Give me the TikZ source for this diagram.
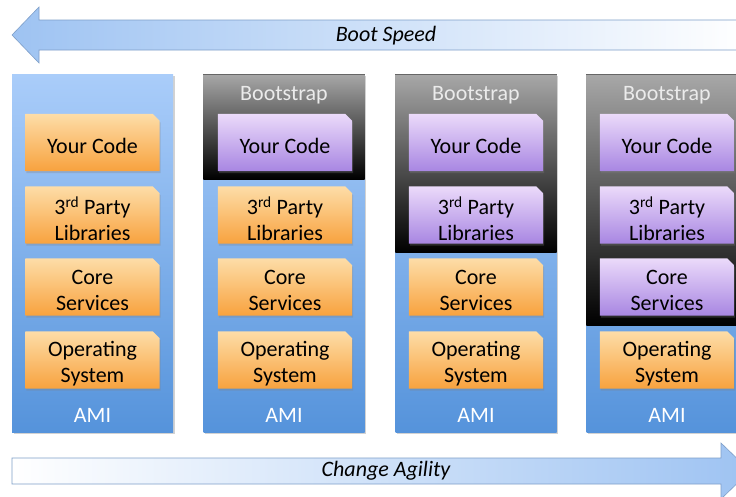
\documentclass[tikz,border=0pt]{standalone}
\usepackage{fontspec}
\setmainfont{Carlito}
\usetikzlibrary{shadows}
\definecolor{colTop}{HTML}{AACDFA}
\definecolor{colBot}{HTML}{5593DB}
\definecolor{orTop}{HTML}{FDDDA8}
\definecolor{orBot}{HTML}{F8A23E}
\definecolor{puTop}{HTML}{EBDAFA}
\definecolor{puBot}{HTML}{A886E2}
\definecolor{bsTop}{HTML}{A8A8A8}
\definecolor{arrBlue}{HTML}{9EC3F2}
\definecolor{arrEdge}{HTML}{7F9FC9}
\tikzset{
  x=1pt, y=-1pt,
  txt/.style={font=\fontsize{22}{26}\selectfont, align=center, text=black},
  column/.style={draw=none, minimum width=161pt, minimum height=358pt,
    top color=colTop, bottom color=colBot, anchor=north,
    drop shadow={shadow xshift=1.5pt, shadow yshift=-1.5pt, opacity=0.35}},
  layerframe/.style={rectangle, minimum width=134pt, minimum height=57pt, inner sep=0pt},
  layer/.style={draw=none, drop shadow={shadow xshift=1pt, shadow yshift=-2pt, opacity=0.3}},
  orange/.style={layer, top color=orTop, bottom color=orBot},
  purple/.style={layer, top color=puTop, bottom color=puBot},
  lbl/.style={font=\fontsize{22}{26}\selectfont, text=white},
  bslbl/.style={font=\fontsize{22}{26}\selectfont, text=black!8},
  arrtxt/.style={font=\fontsize{22}{26}\selectfont\itshape, text=black},
}
\newcommand{\layerbox}[5]{% style, name, x, y, text
  \node[layerframe] (#2) at (#3,#4) {};
  \shade[#1] (#2.south west) -- (#2.north west) -- ([xshift=-7pt]#2.north east)
     -- ([yshift=-7pt]#2.north east) -- (#2.south east) -- cycle;
  \node[txt] (#2t) at ([yshift=-3.5pt]#2.center) {#5};
}
\begin{document}
\begin{tikzpicture}
\useasboundingbox (0,0) rectangle (736,496);
\clip (0,0) rectangle (736,496);
\fill[white] (0,0) rectangle (736,496);
% top arrow
\shade[left color=arrBlue, right color=white, draw=arrEdge, line width=0.6pt]
  (12,35) -- (39,7) -- (39,20) -- (745,20) -- (745,50) -- (39,50) -- (39,63) -- cycle;
\node[arrtxt] (boot) at (386,36) {Boot Speed};
% bottom arrow
\shade[left color=white, right color=arrBlue, draw=arrEdge, line width=0.6pt]
  (12,458) -- (721,458) -- (721,443) -- (750,471) -- (721,499) -- (721,484) -- (12,484) -- cycle;
\node[arrtxt] (agil) at (386,471) {Change Agility};
% columns
\foreach \i/\cx in {1/92.5, 2/284, 3/476, 4/667}{
  \node[column] (col\i) at (\cx,74) {};
}
% bootstrap regions
\shade[top color=bsTop, bottom color=black] (col2.north west) rectangle ([yshift=-105pt]col2.north east);
\shade[top color=bsTop, bottom color=black] (col3.north west) rectangle ([yshift=-178pt]col3.north east);
\shade[top color=bsTop, bottom color=black] (col4.north west) rectangle ([yshift=-251pt]col4.north east);
\draw[black!60, line width=0.6pt] (col2.north west) -- (col2.north east);
\draw[black!60, line width=0.6pt] (col3.north west) -- (col3.north east);
\draw[black!60, line width=0.6pt] (col4.north west) -- (col4.north east);
\foreach \i/\cx in {2/284, 3/476, 4/667}{
  \node[bslbl] (bs\i) at (\cx,95) {Bootstrap};
}
\foreach \i/\cx in {1/92.5, 2/284, 3/476, 4/667}{
  \node[lbl] (ami\i) at (\cx,415) {AMI};
}
% column 1
\layerbox{orange}{yc1}{92.5}{142.5}{Your Code}
\layerbox{orange}{tp1}{92.5}{215}{3\textsuperscript{rd} Party\\Libraries}
\layerbox{orange}{cs1}{92.5}{287}{Core\\Services}
\layerbox{orange}{os1}{92.5}{360}{Operating\\System}
% column 2
\layerbox{purple}{yc2}{285}{142.5}{Your Code}
\layerbox{orange}{tp2}{285}{215}{3\textsuperscript{rd} Party\\Libraries}
\layerbox{orange}{cs2}{285}{287}{Core\\Services}
\layerbox{orange}{os2}{285}{360}{Operating\\System}
% column 3
\layerbox{purple}{yc3}{476}{142.5}{Your Code}
\layerbox{purple}{tp3}{476}{215}{3\textsuperscript{rd} Party\\Libraries}
\layerbox{orange}{cs3}{476}{287}{Core\\Services}
\layerbox{orange}{os3}{476}{360}{Operating\\System}
% column 4
\layerbox{purple}{yc4}{667}{142.5}{Your Code}
\layerbox{purple}{tp4}{667}{215}{3\textsuperscript{rd} Party\\Libraries}
\layerbox{purple}{cs4}{667}{287}{Core\\Services}
\layerbox{orange}{os4}{667}{360}{Operating\\System}
\end{tikzpicture}
\end{document}
